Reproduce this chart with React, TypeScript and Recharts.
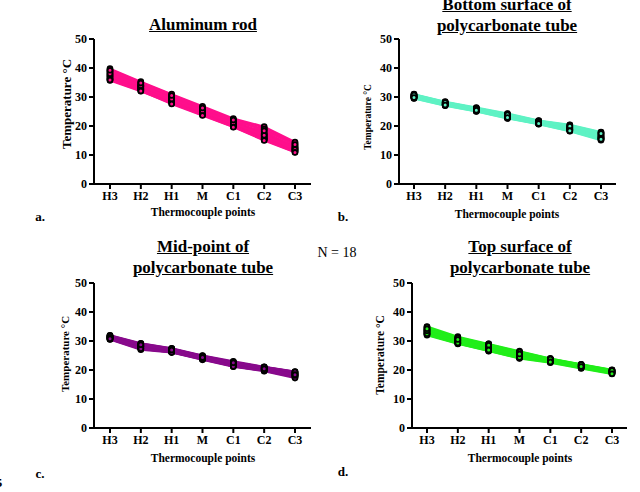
import { Line, LineChart, XAxis, YAxis } from "recharts"

const points = ["H3", "H2", "H1", "M", "C1", "C2", "C3"]
const yTicks = [0, 10, 20, 30, 40, 50]

// one row per run (N = 18), one temperature per thermocouple point
const aluminumRuns = [
  [39.5, 35.0, 30.8, 26.5, 22.3, 19.5, 14.2],
  [39.0, 34.6, 30.2, 26.0, 22.0, 18.8, 13.8],
  [38.6, 34.2, 29.8, 25.6, 21.5, 17.5, 13.0],
  [38.2, 33.8, 29.5, 25.4, 21.2, 17.0, 12.6],
  [37.8, 33.5, 29.2, 25.0, 21.0, 16.6, 12.2],
  [37.5, 33.2, 29.0, 24.8, 20.7, 16.3, 12.0],
  [37.2, 33.0, 28.8, 24.6, 20.5, 16.0, 11.8],
  [36.8, 32.7, 28.6, 24.4, 20.3, 15.8, 11.6],
  [36.4, 32.5, 28.4, 24.2, 20.1, 15.6, 11.4],
  [36.0, 32.3, 28.2, 24.0, 19.9, 15.4, 11.2],
  [35.7, 32.0, 27.8, 23.8, 19.7, 15.2, 11.0],
  [39.8, 35.3, 31.0, 26.8, 22.6, 19.8, 14.5],
  [38.9, 34.0, 29.6, 25.3, 21.3, 18.0, 12.8],
  [37.0, 33.6, 29.9, 25.7, 21.6, 19.0, 13.4],
  [36.2, 32.8, 28.9, 24.9, 20.8, 17.2, 12.4],
  [38.0, 33.9, 29.3, 25.2, 20.9, 16.8, 11.9],
  [35.9, 32.1, 27.6, 23.6, 19.6, 15.0, 10.9],
  [39.2, 34.8, 30.5, 26.2, 22.1, 18.4, 13.6],
]

const bottomRuns = [
  [31.0, 28.4, 26.4, 24.3, 21.9, 20.4, 17.9],
  [30.8, 28.2, 26.2, 24.0, 21.8, 20.1, 17.6],
  [30.6, 28.0, 26.0, 23.8, 21.6, 19.8, 17.3],
  [30.5, 27.9, 25.9, 23.7, 21.5, 19.6, 17.0],
  [30.4, 27.8, 25.8, 23.6, 21.4, 19.4, 16.8],
  [30.3, 27.7, 25.7, 23.5, 21.3, 19.3, 16.6],
  [30.2, 27.6, 25.6, 23.4, 21.2, 19.2, 16.4],
  [30.1, 27.5, 25.5, 23.3, 21.1, 19.0, 16.2],
  [30.0, 27.5, 25.5, 23.2, 21.0, 18.9, 16.0],
  [30.0, 27.4, 25.4, 23.1, 21.0, 18.8, 15.9],
  [29.9, 27.3, 25.3, 23.0, 20.9, 18.7, 15.8],
  [29.8, 27.3, 25.3, 22.9, 20.8, 18.6, 15.6],
  [29.7, 27.2, 25.2, 22.8, 20.8, 18.5, 15.5],
  [29.6, 27.1, 25.1, 22.7, 20.7, 18.3, 15.3],
  [29.5, 27.0, 25.0, 22.6, 20.6, 18.2, 15.1],
  [30.9, 28.3, 26.1, 24.2, 21.7, 20.3, 17.8],
  [30.7, 28.1, 25.9, 23.9, 21.5, 19.9, 17.4],
  [29.8, 27.2, 25.4, 22.9, 20.9, 18.4, 15.4],
]

const midRuns = [
  [32.0, 29.2, 27.5, 25.0, 23.0, 21.1, 19.5],
  [31.8, 29.0, 27.3, 24.9, 22.8, 21.0, 19.3],
  [31.7, 28.8, 27.2, 24.8, 22.6, 20.9, 19.1],
  [31.6, 28.6, 27.1, 24.6, 22.5, 20.8, 19.0],
  [31.5, 28.5, 27.0, 24.5, 22.4, 20.7, 18.8],
  [31.4, 28.4, 26.9, 24.4, 22.3, 20.6, 18.7],
  [31.3, 28.3, 26.8, 24.3, 22.2, 20.5, 18.6],
  [31.2, 28.2, 26.7, 24.2, 22.1, 20.4, 18.5],
  [31.1, 28.1, 26.6, 24.1, 22.0, 20.3, 18.3],
  [31.0, 28.0, 26.5, 24.0, 21.9, 20.2, 18.2],
  [30.9, 27.8, 26.4, 23.9, 21.8, 20.1, 18.0],
  [30.8, 27.6, 26.3, 23.8, 21.7, 20.0, 17.9],
  [30.7, 27.4, 26.2, 23.7, 21.5, 19.9, 17.7],
  [30.6, 27.2, 26.1, 23.6, 21.3, 19.7, 17.5],
  [30.5, 27.0, 26.0, 23.5, 21.1, 19.6, 17.2],
  [31.9, 29.1, 27.4, 24.7, 22.7, 21.0, 19.4],
  [31.3, 27.3, 26.1, 24.0, 21.2, 19.8, 18.1],
  [30.8, 28.7, 26.9, 24.3, 22.5, 20.4, 18.4],
]

const topRuns = [
  [35.0, 31.5, 29.0, 26.5, 24.0, 22.0, 20.1],
  [34.6, 31.2, 28.8, 26.3, 23.9, 21.9, 20.0],
  [34.3, 31.0, 28.6, 26.0, 23.8, 21.8, 19.9],
  [34.0, 30.8, 28.4, 25.8, 23.7, 21.7, 19.8],
  [33.8, 30.6, 28.2, 25.6, 23.6, 21.6, 19.7],
  [33.6, 30.4, 28.0, 25.4, 23.5, 21.5, 19.6],
  [33.4, 30.2, 27.8, 25.2, 23.4, 21.4, 19.5],
  [33.2, 30.0, 27.6, 25.0, 23.3, 21.3, 19.4],
  [33.0, 29.8, 27.4, 24.8, 23.2, 21.2, 19.3],
  [32.8, 29.6, 27.2, 24.6, 23.1, 21.1, 19.2],
  [32.6, 29.4, 27.0, 24.4, 23.0, 21.0, 19.1],
  [32.4, 29.2, 26.8, 24.2, 22.9, 20.9, 19.0],
  [32.2, 29.1, 26.6, 24.1, 22.7, 20.7, 18.8],
  [32.0, 29.0, 26.5, 24.0, 22.5, 20.5, 18.6],
  [34.8, 30.1, 29.0, 25.1, 23.6, 21.4, 19.4],
  [32.5, 31.0, 27.1, 26.2, 23.2, 21.9, 19.0],
  [33.5, 29.3, 28.5, 24.3, 23.8, 20.8, 19.8],
  [34.2, 30.5, 26.9, 25.5, 22.8, 21.2, 18.7],
]

const serif = '"Liberation Serif", "Times New Roman", serif'
const tickStyle = { fill: "#000", fontSize: 12, fontWeight: 700, fontFamily: serif }
const axisStroke = { stroke: "#000", strokeWidth: 2 }

function toRows(runs: number[][]) {
  return points.map((tp, i) => {
    const row: Record<string, string | number> = { tp }
    runs.forEach((run, r) => {
      row[`r${r}`] = run[i]
    })
    return row
  })
}

type PanelProps = {
  runs: number[][]
  color: string
  x: number
  y: number
  width: number
  height: number
  margin: { top: number; right: number; bottom: number; left: number }
  pad: number
}

function Panel({ runs, color, x, y, width, height, margin, pad }: PanelProps) {
  const data = toRows(runs)
  const keys = runs.map((_, r) => `r${r}`)
  return (
    <div style={{ position: "absolute", left: x, top: y }}>
      <LineChart width={width} height={height} data={data} margin={margin}>
        <XAxis
          dataKey="tp"
          interval={0}
          padding={{ left: pad, right: pad }}
          axisLine={axisStroke}
          tickLine={axisStroke}
          tickSize={5}
          tickMargin={2}
          tick={tickStyle}
          height={20}
        />
        <YAxis
          domain={[0, 50]}
          ticks={yTicks}
          width={50}
          axisLine={axisStroke}
          tickLine={axisStroke}
          tickSize={5}
          tickMargin={2}
          tick={tickStyle}
        />
        {keys.map((k) => (
          <Line
            key={k}
            dataKey={k}
            stroke={color}
            strokeWidth={2}
            dot={false}
            activeDot={false}
            isAnimationActive={false}
          />
        ))}
        {/* markers drawn in a second pass so they sit above every line */}
        {keys.map((k) => (
          <Line
            key={`${k}-dot`}
            dataKey={k}
            stroke="none"
            dot={{ r: 2.4, fill: color, stroke: "#000", strokeWidth: 1.8 }}
            activeDot={false}
            isAnimationActive={false}
          />
        ))}
      </LineChart>
    </div>
  )
}

function Title({ lines, cx, top }: { lines: string[]; cx: number; top: number }) {
  return (
    <div
      style={{
        position: "absolute",
        left: cx - 150,
        top,
        width: 300,
        textAlign: "center",
        fontFamily: serif,
        fontWeight: 700,
        fontSize: 17,
        lineHeight: "21px",
        textDecoration: "underline",
      }}
    >
      {lines.map((l) => (
        <div key={l}>{l}</div>
      ))}
    </div>
  )
}

function Text({
  children,
  cx,
  cy,
  size,
  bold = true,
  rotate = false,
}: {
  children: string
  cx: number
  cy: number
  size: number
  bold?: boolean
  rotate?: boolean
}) {
  return (
    <div
      style={{
        position: "absolute",
        left: cx,
        top: cy,
        transform: `translate(-50%, -50%)${rotate ? " rotate(-90deg)" : ""}`,
        whiteSpace: "nowrap",
        fontFamily: serif,
        fontWeight: bold ? 700 : 400,
        fontSize: size,
        lineHeight: 1,
      }}
    >
      {children}
    </div>
  )
}

export default function App() {
  return (
    <div
      style={{
        position: "absolute",
        left: 0,
        top: 0,
        width: 640,
        height: 492,
        overflow: "hidden",
        background: "#fff",
        color: "#000",
      }}
    >
      <Panel
        runs={aluminumRuns}
        color="#ff0f8c"
        x={0}
        y={0}
        width={320}
        height={230}
        margin={{ top: 39, right: 9, bottom: 26, left: 44 }}
        pad={16}
      />
      <Panel
        runs={bottomRuns}
        color="#5ff2c4"
        x={320}
        y={0}
        width={320}
        height={230}
        margin={{ top: 39, right: 24, bottom: 26, left: 29 }}
        pad={15}
      />
      <Panel
        runs={midRuns}
        color="#880a8c"
        x={0}
        y={230}
        width={320}
        height={262}
        margin={{ top: 53, right: 9, bottom: 44, left: 44 }}
        pad={16}
      />
      <Panel
        runs={topRuns}
        color="#22ee1a"
        x={320}
        y={230}
        width={320}
        height={262}
        margin={{ top: 53, right: 13, bottom: 44, left: 42 }}
        pad={15}
      />

      <Title lines={["Aluminum rod"]} cx={203} top={14} />
      <Title lines={["Bottom surface of", "polycarbonate tube"]} cx={507} top={-6} />
      <Title lines={["Mid-point of", "polycarbonate tube"]} cx={203} top={236} />
      <Title lines={["Top surface of", "polycarbonate tube"]} cx={520} top={236} />

      <Text cx={66} cy={104} size={13} rotate>Temperature °C</Text>
      <Text cx={369} cy={117} size={9.5} rotate>Temperature °C</Text>
      <Text cx={65} cy={354} size={11} rotate>Temperature °C</Text>
      <Text cx={381} cy={355} size={11.5} rotate>Temperature °C</Text>

      <Text cx={203} cy={213} size={11.5}>Thermocouple points</Text>
      <Text cx={507} cy={215} size={11.5}>Thermocouple points</Text>
      <Text cx={203} cy={459} size={11.5}>Thermocouple points</Text>
      <Text cx={520} cy={459} size={11.5}>Thermocouple points</Text>

      <Text cx={40} cy={216} size={13}>a.</Text>
      <Text cx={343} cy={216} size={13}>b.</Text>
      <Text cx={40} cy={473} size={13}>c.</Text>
      <Text cx={343} cy={471} size={13}>d.</Text>

      <Text cx={337} cy={253} size={14} bold={false}>N = 18</Text>
      <Text cx={-1} cy={482} size={13}>5</Text>
    </div>
  )
}
